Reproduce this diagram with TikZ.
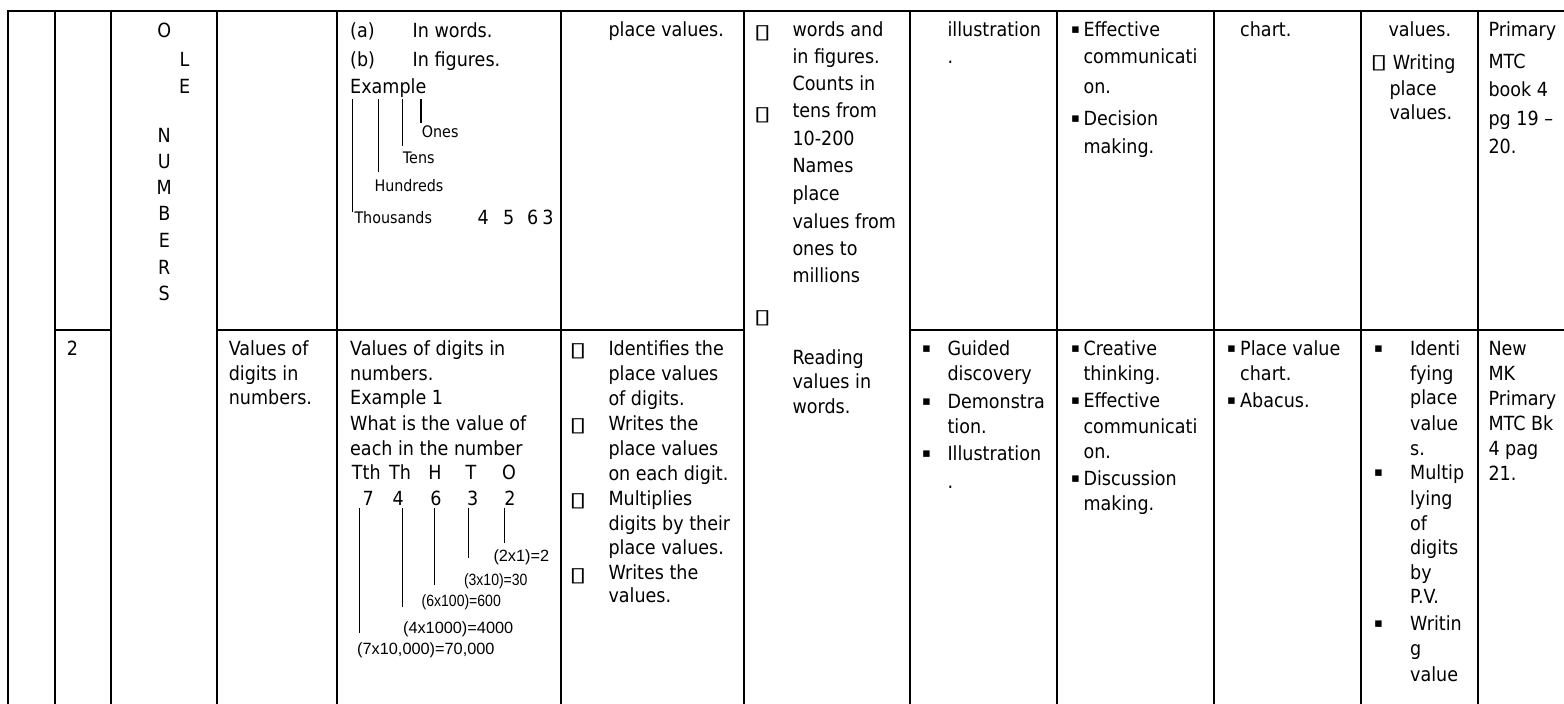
\documentclass[tikz,border=0pt]{standalone}
\usepackage{fontspec}
\usepackage{graphicx}
\setmainfont{DejaVu Sans}[FakeStretch=0.9]
\newfontfamily\symf{DejaVu Sans}
\newfontfamily\arialf{Liberation Sans}
\tikzset{
  grid/.style={line width=2pt, black},
  diag/.style={line width=1.1pt, black},
  txt/.style={inner sep=0pt, font=\fontsize{19.5}{23}\selectfont, anchor=base west},
  lbl/.style={inner sep=0pt, font=\fontsize{15.9}{18}\selectfont, anchor=base west},
  num/.style={inner sep=0pt, font=\arialf\fontsize{16.3}{18}\selectfont, anchor=base west},
  boxg/.style={inner sep=0pt, font=\symf\fontsize{20}{22}\selectfont, anchor=center},
  sqb/.style={inner sep=0pt, font=\symf\fontsize{13}{15}\selectfont, anchor=base west, yshift=3pt},
}
\newcommand\tlines[3]{%
  \foreach \yy/\tx [count=\i] in {#3} {\node[txt] (#1-\i) at (#2,\yy) {\tx};}}
\newcommand\gbox{\scalebox{1.6}[1]{▯}}
\begin{document}
\begin{tikzpicture}[x=1pt,y=-1pt]
\useasboundingbox (0,0) rectangle (1564,704);
% ---------- table rules ----------
\foreach \xx in {7.9,54.6,110.7,216.8,336.8,560.5,744.3,910,1057.3,1214,1361,1477.5}
  \draw[grid] (\xx,11) -- (\xx,704);
\draw[grid] (6.9,11) -- (1564,11);
\draw[grid] (54.6,330) -- (110.7,330);
\draw[grid] (216.8,330) -- (744.3,330);
\draw[grid] (910,330) -- (1564,330);
% ---------- column 3: vertical title ----------
\foreach \xx/\yy/\ch [count=\i] in {164.3/37.7/O,184.6/66.3/L,184.6/93/E,164.3/142/N,164.3/168/U,164.3/194/M,164.3/220/B,164.3/247/E,164.3/274/R,164.3/300/S}
  \node[txt,anchor=base] (ln-\i) at (\xx,\yy) {\ch};
% ---------- row 1, column 5 ----------
\node[txt] (pa) at (350,37.7) {(a)};
\node[txt] (pwa) at (412.5,37.7) {In words.};
\node[txt] (pb) at (350,66.3) {(b)};
\node[txt] (pfb) at (412.5,66.3) {In figures.};
\node[txt] (ex) at (350,93) {Example};
\draw[diag] (352.7,99) -- (352.7,212);
\draw[diag] (378.3,99) -- (378.3,171.7);
\draw[diag] (402.7,99) -- (402.7,146);
\draw[diag] (421,99) -- (421,122.7);
\node[lbl] (ones) at (421.7,137.7) {Ones};
\node[lbl] (tens) at (402.7,163) {Tens};
\node[lbl] (hund) at (374.3,191) {Hundreds};
\node[lbl] (thou) at (354.3,223.7) {Thousands};
\node[txt,anchor=base] (g1) at (483.3,224.7) {4};
\node[txt,anchor=base] (g2) at (508.7,224.7) {5};
\node[txt,anchor=base] (g3) at (532.7,224.7) {6};
\node[txt,anchor=base] (g4) at (548,224.7) {3};
% ---------- row 1, other columns ----------
\node[txt] (c6a) at (608.3,36.3) {place values.};
\node[boxg] (c7b1) at (762.5,33) {\gbox};
\node[boxg] (c7b2) at (762.5,115) {\gbox};
\node[boxg] (c7b3) at (762.5,318.3) {\gbox};
\tlines{c7a}{792.3}{36.3/words and,63.7/in figures.,90.3/Counts in,117.7/tens from,145.3/10-200,172.7/Names,200.3/place,228/values from,255.3/ones to,282.7/millions}
\tlines{c8a}{947.3}{36.3/illustration,63.7/.}
\node[sqb] (c9s1) at (1071,36.3) {▪};
\node[sqb] (c9s2) at (1071,125.3) {▪};
\tlines{c9a}{1083.3}{36.3/Effective,63.7/communicati,93.5/on.,125.3/Decision,153.7/making.}
\node[txt] (c10a) at (1240,36.3) {chart.};
\node[txt] (c11a) at (1388.3,36.3) {values.};
\node[boxg] (c11b) at (1379,63) {\gbox};
\node[txt] (c11w) at (1392.7,69.7) {Writing};
\tlines{c11c}{1389.3}{95.3/place,119.7/values.}
\tlines{c12a}{1488.3}{36.3/Primary,68/MTC,96.3/book 4,125.3/pg 19 –,153.7/20.}
% ---------- row 2 ----------
\node[txt,anchor=base] (wk) at (72.5,355) {2};
\tlines{c4b}{228.6}{355/Values of,380/digits in,404/numbers.}
\tlines{c5b}{350}{355/Values of digits in,380/numbers.,404/Example 1,430/What is the value of,455/each in the number}
\node[txt] (hTth) at (351.7,479.7) {Tth};
\node[txt] (hTh) at (389,479.7) {Th};
\node[txt,anchor=base] (hH) at (435,479.7) {H};
\node[txt,anchor=base] (hT) at (471,479.7) {T};
\node[txt,anchor=base] (hO) at (509,479.7) {O};
\node[txt,anchor=base] (d7) at (368.3,505.3) {7};
\node[txt,anchor=base] (d4) at (398.3,505.3) {4};
\node[txt,anchor=base] (d6) at (436,505.3) {6};
\node[txt,anchor=base] (d3) at (472.7,505.3) {3};
\node[txt,anchor=base] (d2) at (510,505.3) {2};
\draw[diag] (359.3,508.3) -- (359.3,633);
\draw[diag] (402.9,508.3) -- (402.9,606.7);
\draw[diag] (434.8,508.3) -- (434.8,584.7);
\draw[diag] (468.8,508.3) -- (468.8,558.2);
\draw[diag] (504.2,508.3) -- (504.2,543.2);
\node[num] (v2) at (493.3,561.8) {(2x1)=2};
\node[num] (v3) at (463.8,585.8) {\scalebox{0.86}[1]{(3x10)=30}};
\node[num] (v6) at (421.5,606.8) {\scalebox{0.86}[1]{(6x100)=600}};
\node[num] (v4) at (402.9,633) {(4x1000)=4000};
\node[num] (v7) at (357,654) {(7x10,000)=70,000};
% column 6
\foreach \yy [count=\i] in {351.7,426.7,501.7,576.7} \node[boxg] (c6bx-\i) at (578,\yy) {\gbox};
\tlines{c6b}{608.3}{355/Identifies the,380/place values,405/of digits.,430/Writes the,455/place values,480/on each digit.,505/Multiplies,530/digits by their,554/place values.,579/Writes the,602/values.}
% column 7
\tlines{c7c}{792.3}{364.3/Reading,388.7/values in,413.7/words.}
% column 8
\foreach \yy [count=\i] in {355.3,408.7,460.3} \node[sqb] (c8s-\i) at (922,\yy) {▪};
\tlines{c8b}{947.3}{355.3/Guided,380.3/discovery,408.7/Demonstra,433.7/tion.,460.3/Illustration,488/.}
% column 9
\foreach \yy [count=\i] in {355.3,407.7,485.3} \node[sqb] (c9t-\i) at (1071,\yy) {▪};
\tlines{c9b}{1083.3}{355.3/Creative,380.3/thinking.,407.7/Effective,433.7/communicati,458/on.,485.3/Discussion,510.3/making.}
% column 10
\foreach \yy [count=\i] in {355.3,407.7} \node[sqb] (c10s-\i) at (1227,\yy) {▪};
\tlines{c10b}{1240}{355.3/Place value,380.3/chart.,407.7/Abacus.}
% column 11
\foreach \yy [count=\i] in {355,479.7,630.3} \node[sqb] (c11s-\i) at (1374,\yy) {▪};
\tlines{c11d}{1410}{355/Identi,380/fying,404.7/place,430.3/value,455.3/s.,479.7/Multip,505.3/lying,530.3/of,554.7/digits,579.7/by,603.7/P.V.,630.3/Writin,655.3/g,681.3/value}
% column 12
\tlines{c12b}{1488.3}{355/New,380/MK,405.3/Primary,430.3/MTC Bk,455.3/4 pag,480.3/21.}
\end{tikzpicture}
\end{document}
